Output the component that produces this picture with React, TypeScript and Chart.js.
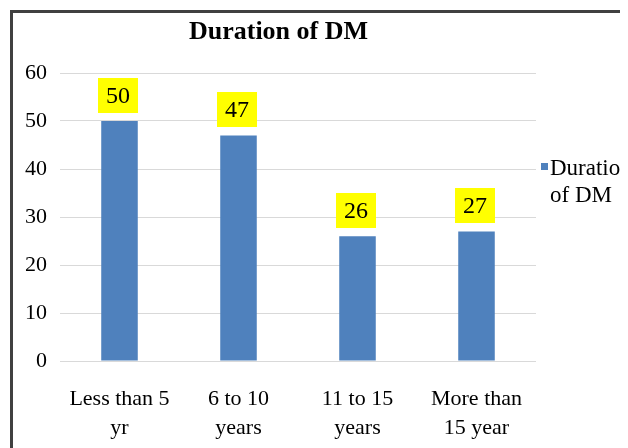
import React, { useEffect, useRef } from "react";
import { Chart, registerables } from "chart.js";

Chart.register(...registerables);

const chartTitle = "Duration of DM";
const seriesLabel = "Duration of DM";
const categories: string[][] = [
  ["Less than 5", "yr"],
  ["6 to 10", "years"],
  ["11 to 15", "years"],
  ["More than", "15 year"],
];
const values: number[] = [50, 47, 26, 27];
const legendLines: string[] = ["Duration", "of DM"];

const FONT = "'Liberation Serif', 'Times New Roman', serif";
const BAR_COLOR = "#4F81BD";

const framePlugin = {
  id: "frameAndTitle",
  beforeDraw(chart: any) {
    const ctx = chart.ctx;
    ctx.save();
    ctx.fillStyle = "#ffffff";
    ctx.fillRect(0, 0, chart.width, chart.height);
    ctx.strokeStyle = "#404040";
    ctx.lineWidth = 3;
    ctx.beginPath();
    ctx.moveTo(3.5, chart.height + 10);
    ctx.lineTo(3.5, 3.5);
    ctx.lineTo(chart.width + 10, 3.5);
    ctx.stroke();
    ctx.restore();
  },
  afterDraw(chart: any) {
    const ctx = chart.ctx;
    ctx.save();
    ctx.fillStyle = "#000000";
    ctx.font = `bold 26px ${FONT}`;
    ctx.textAlign = "center";
    ctx.textBaseline = "alphabetic";
    ctx.fillText(chartTitle, 270.5, 30.5);
    const lx = chart.chartArea.right + 5;
    ctx.fillStyle = BAR_COLOR;
    ctx.fillRect(lx, 155, 7, 7);
    ctx.fillStyle = "#000000";
    ctx.font = `23px ${FONT}`;
    ctx.textAlign = "left";
    legendLines.forEach((line, i) => {
      ctx.fillText(line, lx + 9, 167 + i * 27);
    });
    ctx.restore();
  },
  afterDatasetsDraw(chart: any) {
    const ctx = chart.ctx;
    const meta = chart.getDatasetMeta(0);
    const data = chart.data.datasets[0].data as number[];
    ctx.save();
    ctx.font = `24px ${FONT}`;
    ctx.textAlign = "center";
    ctx.textBaseline = "middle";
    meta.data.forEach((el: any, i: number) => {
      const x = el.x - 1.5;
      const bottom = el.y - 8;
      const w = 40;
      const h = 35;
      ctx.fillStyle = "#FFFF00";
      ctx.fillRect(Math.round(x - w / 2), Math.round(bottom - h), w, h);
      ctx.fillStyle = "#000000";
      ctx.fillText(String(data[i]), x, bottom - h / 2 + 1);
    });
    ctx.restore();
  },
};

export default function App() {
  const ref = useRef<HTMLCanvasElement | null>(null);

  useEffect(() => {
    document.documentElement.style.overflow = "hidden";
    document.body.style.overflow = "hidden";
    if (!ref.current) return;
    const chart = new Chart(ref.current, {
      type: "bar",
      data: {
        labels: categories,
        datasets: [
          {
            label: seriesLabel,
            data: values,
            backgroundColor: BAR_COLOR,
            borderWidth: 0,
            barPercentage: 0.307,
            categoryPercentage: 1,
          },
        ],
      },
      options: {
        animation: false,
        responsive: true,
        maintainAspectRatio: false,
        layout: { padding: { top: 65, right: 92, bottom: 0, left: 0 } },
        plugins: {
          legend: { display: false },
          title: { display: false },
          tooltip: { enabled: false },
        },
        scales: {
          x: {
            grid: { display: false, drawTicks: false },
            border: { display: false },
            ticks: {
              color: "#000000",
              font: { family: FONT, size: 22, lineHeight: 1.3 },
              padding: 24,
              autoSkip: false,
              maxRotation: 0,
              minRotation: 0,
            },
            afterFit(scale: any) {
              scale.height = 87;
            },
          },
          y: {
            min: 0,
            max: 60,
            ticks: {
              stepSize: 10,
              color: "#000000",
              font: { family: FONT, size: 22 },
              padding: 13,
            },
            grid: { color: "#D9D9D9", lineWidth: 1, drawTicks: false },
            border: { display: false },
            afterFit(scale: any) {
              scale.width = 52;
            },
          },
        },
      },
      plugins: [framePlugin],
    });
    return () => chart.destroy();
  }, []);

  return (
    <div style={{ position: "relative", width: "620px", height: "440px" }}>
      <canvas ref={ref} />
    </div>
  );
}
